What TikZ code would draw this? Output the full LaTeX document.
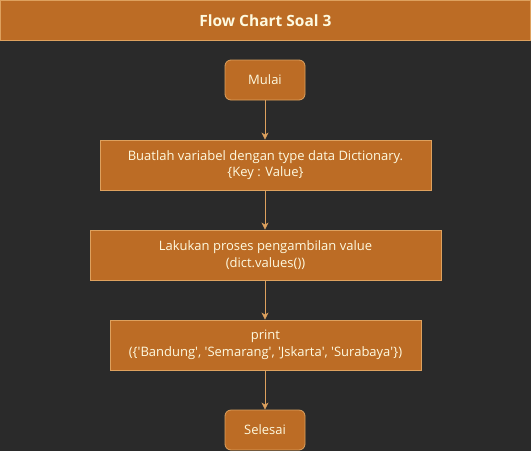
\documentclass[tikz,border=0pt]{standalone}
\usepackage{fontspec}
\setmainfont{Open Sans}
\usetikzlibrary{arrows.meta}
\definecolor{bgc}{HTML}{2A2A2A}
\definecolor{boxfill}{HTML}{BC6C25}
\definecolor{boxline}{HTML}{DDA15E}
\definecolor{txt}{HTML}{FEFAE0}
\newcommand{\sq}{\textquotesingle}
\tikzset{
  basebox/.style={draw=boxline, fill=boxfill, text=txt, line width=0.8pt, inner sep=0pt, align=center, font=\fontsize{13}{16.5}\selectfont},
  termbox/.style={basebox, rounded corners=6pt, minimum width=80pt, minimum height=40pt},
  procbox/.style={basebox, minimum height=50pt},
  titlebox/.style={basebox, minimum width=530pt, minimum height=40pt, font=\bfseries\fontsize{15.5}{18}\selectfont},
  flow/.style={draw=boxline, line width=0.8pt, -{Stealth[length=7pt,width=7pt,inset=2pt]}}
}
\begin{document}
\begin{tikzpicture}[x=1pt,y=-1pt]
\useasboundingbox (0,0) rectangle (531,451);
\fill[bgc] (0,0) rectangle (531,451);
\node[titlebox] (title) at (265.5,20.5) {Flow Chart Soal 3};
\node[termbox] (start) at (265,80) {Mulai};
\node[procbox, minimum width=331pt] (dict) at (265.5,165) {Buatlah variabel dengan type data Dictionary.\\{\{}Key : Value{\}}};
\node[procbox, minimum width=351pt] (vals) at (265.5,255) {Lakukan proses pengambilan value\\(dict.values())};
\node[procbox, minimum width=311pt] (prt) at (265.5,345) {print\\({\{}\sq Bandung\sq, \sq Semarang\sq, \sq Jskarta\sq, \sq Surabaya\sq{\}})};
\node[termbox] (stop) at (265,430) {Selesai};
\draw[flow] (start.south -| 265,0) -- (dict.north -| 265,0);
\draw[flow] (dict.south -| 265,0) -- (vals.north -| 265,0);
\draw[flow] (vals.south -| 265,0) -- (prt.north -| 265,0);
\draw[flow] (prt.south -| 265,0) -- (stop.north -| 265,0);
\end{tikzpicture}
\end{document}
